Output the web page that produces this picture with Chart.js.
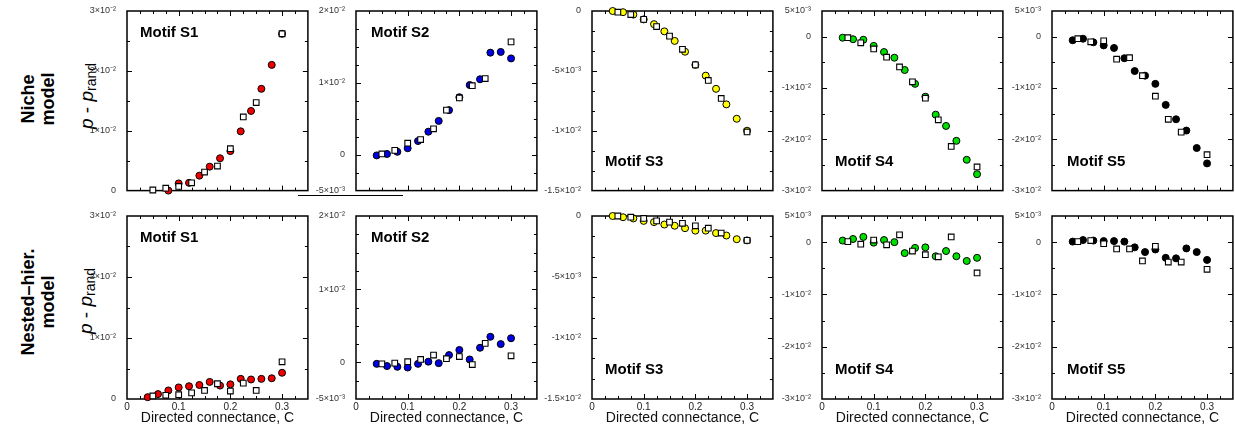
<!DOCTYPE html>
<html>
<head>
<meta charset="utf-8">
<script src="https://cdn.jsdelivr.net/npm/chart.js@4.4.1/dist/chart.umd.min.js"></script>
<style>
  body { margin: 0; background: #fff; }
  #page { position: relative; width: 1235px; height: 426px; overflow: hidden; font-family: "Liberation Sans", Arial, sans-serif; }
  canvas { position: absolute; }
  .rowlab { position: absolute; font-weight: bold; font-size: 18px; line-height: 20px; text-align: center; white-space: nowrap; transform: translate(-50%, -50%) rotate(-90deg); color: #000; }
  .ytitle { position: absolute; font-size: 19px; white-space: nowrap; transform: translate(-50%, -50%) rotate(-90deg); color: #000; }
  .ytitle sub { font-size: 14px; vertical-align: -3px; }
  .glitch { position: absolute; left: 298px; top: 195px; width: 105px; height: 0; border-top: 1.5px solid #000; }
</style>
</head>
<body>
<div id="page">
  <div class="rowlab" style="left:38px; top:99px;">Niche<br>model</div>
  <div class="rowlab" style="left:38px; top:302px;">Nested–hier.<br>model</div>
  <div class="ytitle" style="left:87px; top:96px;"><i>p</i> - <i>p</i><sub>rand</sub></div>
  <div class="ytitle" style="left:86px; top:301px;"><i>p</i> - <i>p</i><sub>rand</sub></div>
  <div class="glitch"></div>
</div>
<script>
// x positions (directed connectance) of the two point sets
const circleC = [0.04, 0.06, 0.08, 0.10, 0.12, 0.14, 0.16, 0.18, 0.20, 0.22, 0.24, 0.26, 0.28, 0.30];
const squareC = [0.05, 0.075, 0.10, 0.125, 0.15, 0.175, 0.20, 0.225, 0.25, 0.30];

const motifNames = ['Motif S1', 'Motif S2', 'Motif S3', 'Motif S4', 'Motif S5'];
const modelNames = ['Niche model', 'Nested–hier. model'];

// niche model, filled circles
const nicheCircS1 = [null, null, 0.0000, 0.0012, 0.0013, 0.0025, 0.0040, 0.0054, 0.0066, 0.0099, 0.0133, 0.0170, 0.0210, 0.0262];
const nicheCircS2 = [-0.0001, 0.0001, 0.0004, 0.0009, 0.0019, 0.0032, 0.0047, 0.0062, 0.0080, 0.0097, 0.0105, 0.0142, 0.0143, 0.0134];
const nicheCircS3 = [0.0000, -0.0001, -0.0003, -0.0007, -0.0011, -0.0017, -0.0025, -0.0034, -0.0045, -0.0054, -0.0065, -0.0078, -0.0090, -0.0100];
const nicheCircS4 = [-0.0002, -0.0005, -0.0006, -0.0018, -0.0030, -0.0041, -0.0065, -0.0092, -0.0117, -0.0152, -0.0174, -0.0203, -0.0240, -0.0268];
const nicheCircS5 = [-0.0007, -0.0004, -0.0011, -0.0017, -0.0022, -0.0042, -0.0067, -0.0076, -0.0092, -0.0133, -0.0161, -0.0183, -0.0217, -0.0247];
// niche model, open squares
const nicheSqS1 = [0.0001, 0.0004, 0.0007, 0.0013, 0.0031, 0.0041, 0.0070, 0.0123, 0.0147, 0.0262];
const nicheSqS2 = [0.0001, 0.0006, 0.0016, 0.0021, 0.0036, 0.0062, 0.0079, 0.0096, 0.0106, 0.0157];
const nicheSqS3 = [-0.0001, -0.0003, -0.0007, -0.0013, -0.0021, -0.0032, -0.0045, -0.0058, -0.0073, -0.0101];
const nicheSqS4 = [-0.0002, -0.0012, -0.0024, -0.0040, -0.0059, -0.0088, -0.0120, -0.0162, -0.0214, -0.0254];
const nicheSqS5 = [-0.0004, -0.0010, -0.0008, -0.0044, -0.0041, -0.0076, -0.0116, -0.0161, -0.0186, -0.0230];
// nested-hierarchy model, filled circles
const nestCircS1 = [0.0003, 0.0008, 0.0014, 0.0019, 0.0021, 0.0023, 0.0028, 0.0022, 0.0024, 0.0033, 0.0032, 0.0033, 0.0034, 0.0043];
const nestCircS2 = [-0.0002, -0.0005, -0.0006, -0.0007, -0.0002, 0.0001, -0.0001, 0.0010, 0.0017, 0.0004, 0.0020, 0.0035, 0.0025, 0.0033];
const nestCircS3 = [0.0000, -0.0001, -0.0002, -0.0004, -0.0005, -0.0007, -0.0008, -0.0010, -0.0012, -0.0012, -0.0014, -0.0016, -0.0019, -0.0020];
const nestCircS4 = [0.0003, 0.0006, 0.0010, -0.0001, 0.0004, 0.0000, -0.0021, -0.0011, -0.0010, -0.0027, -0.0017, -0.0027, -0.0036, -0.0030];
const nestCircS5 = [0.0001, 0.0004, 0.0003, 0.0002, 0.0002, 0.0001, -0.0010, -0.0019, -0.0014, -0.0030, -0.0031, -0.0012, -0.0019, -0.0034];
// nested-hierarchy model, open squares
const nestSqS1 = [0.0005, 0.0006, 0.0007, 0.0010, 0.0014, 0.0025, 0.0013, 0.0026, 0.0014, 0.0061];
const nestSqS2 = [-0.0002, -0.0001, 0.0001, 0.0004, 0.0010, 0.0005, 0.0008, -0.0003, 0.0026, 0.0009];
const nestSqS3 = [0.0000, -0.0001, -0.0002, -0.0004, -0.0005, -0.0006, -0.0008, -0.0010, -0.0014, -0.0020];
const nestSqS4 = [0.0001, -0.0004, 0.0004, -0.0005, 0.0014, -0.0017, -0.0024, -0.0028, 0.0010, -0.0059];
const nestSqS5 = [0.0001, 0.0003, -0.0003, -0.0013, -0.0013, -0.0036, -0.0008, -0.0038, -0.0038, -0.0052];

// tick labels
const xTickVals = [0, 0.1, 0.2, 0.3];
const xTickLabels = ['0', '0.1', '0.2', '0.3'];
const yTickValsS1 = [0, 0.01, 0.02, 0.03];
const yTickLabelsS1 = ['0', '1×10⁻²', '2×10⁻²', '3×10⁻²'];
const yTickValsS2 = [-0.005, 0, 0.01, 0.02];
const yTickLabelsS2 = ['-5×10⁻³', '0', '1×10⁻²', '2×10⁻²'];
const yTickValsS3 = [-0.015, -0.01, -0.005, 0];
const yTickLabelsS3 = ['-1.5×10⁻²', '-1×10⁻²', '-5×10⁻³', '0'];
const yTickValsS45 = [-0.03, -0.02, -0.01, 0, 0.005];
const yTickLabelsS45 = ['-3×10⁻²', '-2×10⁻²', '-1×10⁻²', '0', '5×10⁻³'];

const circData = [
  [nicheCircS1, nicheCircS2, nicheCircS3, nicheCircS4, nicheCircS5],
  [nestCircS1, nestCircS2, nestCircS3, nestCircS4, nestCircS5]
];
const sqData = [
  [nicheSqS1, nicheSqS2, nicheSqS3, nicheSqS4, nicheSqS5],
  [nestSqS1, nestSqS2, nestSqS3, nestSqS4, nestSqS5]
];
const yTicks = [
  [yTickValsS1, yTickLabelsS1], [yTickValsS2, yTickLabelsS2], [yTickValsS3, yTickLabelsS3],
  [yTickValsS45, yTickLabelsS45], [yTickValsS45, yTickLabelsS45]
];

// layout / style
const fillColors = ['#f00000', '#0000e6', '#ffff00', '#00e000', '#000000'];
const yRange = [[0, 0.03], [-0.005, 0.02], [-0.015, 0], [-0.03, 0.005], [-0.03, 0.005]];
const yMinor = [0.005, 0.0025, 0.005 / 3, 0.005, 0.005];
const panelLeft = [127, 356, 592, 822, 1052];
const rowTop = [11, 216];
const rowHeight = [182, 183];
const plotW = 182;
const labelAtTop = [[true, true, false, false, false], [true, true, false, false, false]];
const labelDx = [13, 15, 13, 13, 15];

Chart.defaults.font.family = '"Liberation Sans", Arial, sans-serif';

function near(v, list) { return list.some(t => Math.abs(t - v) < 1e-9); }

const framePlugin = {
  id: 'frame',
  beforeDatasetsDraw(chart, args, o) {
    const { ctx, chartArea: a, scales: { x, y } } = chart;
    ctx.save();
    ctx.strokeStyle = '#000';
    ctx.lineWidth = 1;
    ctx.beginPath();
    const nx = Math.round((x.max - x.min) / 0.025);
    for (let i = 1; i < nx; i++) {
      const v = x.min + i * 0.025;
      const px = Math.round(x.getPixelForValue(v)) + 0.5;
      const len = near(v, xTickVals) ? 5 : 3;
      ctx.moveTo(px, a.bottom); ctx.lineTo(px, a.bottom - len);
      ctx.moveTo(px, a.top); ctx.lineTo(px, a.top + len);
    }
    const ny = Math.round((y.max - y.min) / o.minor);
    for (let i = 1; i < ny; i++) {
      const v = y.min + i * o.minor;
      const py = Math.round(y.getPixelForValue(v)) + 0.5;
      const len = near(v, o.majors) ? 5 : 3;
      ctx.moveTo(a.left, py); ctx.lineTo(a.left + len, py);
      ctx.moveTo(a.right, py); ctx.lineTo(a.right - len, py);
    }
    ctx.stroke();
    ctx.lineWidth = 1.5;
    ctx.strokeRect(a.left, a.top, a.right - a.left, a.bottom - a.top);
    ctx.restore();
  },
  afterDraw(chart, args, o) {
    const { ctx, chartArea: a } = chart;
    ctx.save();
    ctx.font = 'bold 15px "Liberation Sans", Arial, sans-serif';
    ctx.fillStyle = '#000';
    ctx.textBaseline = 'alphabetic';
    const yb = o.atTop ? a.top + 26 : a.bottom - 25;
    ctx.fillText(o.label, a.left + o.dx, yb);
    ctx.restore();
  }
};

const page = document.getElementById('page');

function makePanel(row, col) {
  const padL = 70, padT = 11, padR = 4;
  const T = rowTop[row], H = rowHeight[row];
  const padB = row === 0 ? 6 : 426 - (T + H);
  const canvas = document.createElement('canvas');
  canvas.width = padL + plotW + padR;
  canvas.height = padT + H + padB;
  canvas.style.left = (panelLeft[col] - padL) + 'px';
  canvas.style.top = (T - padT) + 'px';
  page.appendChild(canvas);

  const [yVals, yLabels] = yTicks[col];
  const circ = circleC.map((c, i) => ({ x: c, y: circData[row][col][i] })).filter(p => p.y !== null);
  const sq = squareC.map((c, i) => ({ x: c, y: sqData[row][col][i] }));

  new Chart(canvas, {
    type: 'scatter',
    data: {
      datasets: [
        {
          label: modelNames[row] + ' (squares)',
          data: sq,
          pointStyle: 'rect',
          pointRadius: 4,
          backgroundColor: '#ffffff',
          borderColor: '#000000',
          borderWidth: 1.1,
          clip: false
        },
        {
          label: modelNames[row] + ' (circles)',
          data: circ,
          pointStyle: 'circle',
          pointRadius: 3.5,
          backgroundColor: fillColors[col],
          borderColor: '#000000',
          borderWidth: 1,
          clip: false
        }
      ]
    },
    options: {
      responsive: false,
      animation: false,
      events: [],
      layout: { padding: { left: 0, top: padT, right: padR, bottom: 0 } },
      plugins: {
        legend: { display: false },
        tooltip: { enabled: false },
        frame: { minor: yMinor[col], majors: yVals, label: motifNames[col], atTop: labelAtTop[row][col], dx: labelDx[col] }
      },
      scales: {
        x: {
          type: 'linear',
          min: 0,
          max: 0.35,
          grid: { display: false },
          border: { display: false },
          afterBuildTicks: s => { s.ticks = xTickVals.map(v => ({ value: v })); },
          afterFit: s => { s.height = padB; },
          ticks: {
            display: row === 1,
            autoSkip: false,
            maxRotation: 0,
            padding: -6,
            color: '#222',
            font: { size: 10 },
            callback: (v, i) => xTickLabels[i]
          },
          title: {
            display: row === 1,
            text: 'Directed connectance, C',
            color: '#111',
            font: { size: 14 },
            padding: { top: 0, bottom: -1 }
          }
        },
        y: {
          type: 'linear',
          min: yRange[col][0],
          max: yRange[col][1],
          grid: { display: false },
          border: { display: false },
          afterBuildTicks: s => { s.ticks = yVals.map(v => ({ value: v })); },
          afterFit: s => { s.width = padL; },
          ticks: {
            autoSkip: false,
            padding: 3,
            color: '#333',
            font: { size: 9 },
            callback: (v, i) => yLabels[i]
          }
        }
      }
    },
    plugins: [framePlugin]
  });
}

for (let r = 0; r < 2; r++) {
  for (let c = 0; c < 5; c++) makePanel(r, c);
}
</script>
</body>
</html>
